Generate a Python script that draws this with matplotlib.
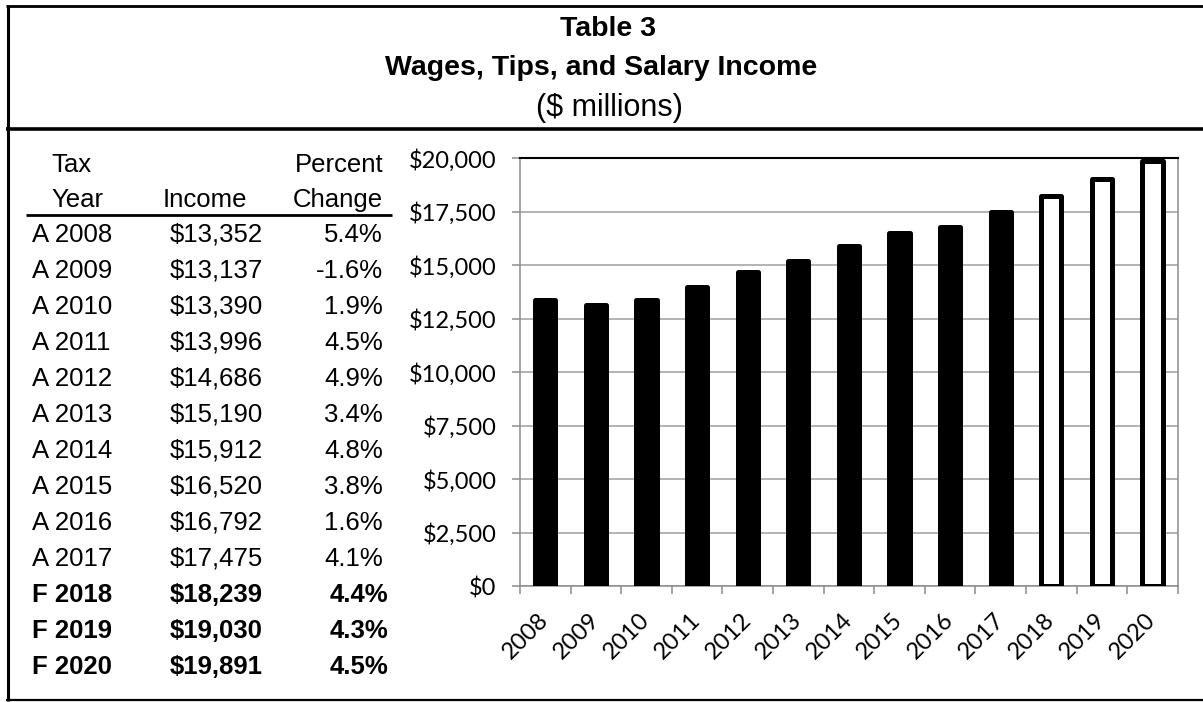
import matplotlib
matplotlib.use("Agg")
import matplotlib.pyplot as plt
from matplotlib.lines import Line2D

# canvas size in pixels (dpi 100)
W, H = 1203, 702

years = [2008, 2009, 2010, 2011, 2012, 2013, 2014, 2015, 2016, 2017, 2018, 2019, 2020]
status = ["A", "A", "A", "A", "A", "A", "A", "A", "A", "A", "F", "F", "F"]  # A = actual, F = forecast
income = [13352, 13137, 13390, 13996, 14686, 15190, 15912, 16520, 16792, 17475, 18239, 19030, 19891]
pct_change = [5.4, -1.6, 1.9, 4.5, 4.9, 3.4, 4.8, 3.8, 1.6, 4.1, 4.4, 4.3, 4.5]
y_ticks = [0, 2500, 5000, 7500, 10000, 12500, 15000, 17500, 20000]

title_lines = ["Table 3", "Wages, Tips, and Salary Income", "($ millions)"]

TABLE_FONT = "Liberation Sans"
AXIS_FONT = "Lato"
GRAY = "#8c8c8c"
ROW_SIZE = 18.5


def fx(x):
    return x / W


def fy(y):
    return 1 - y / H


def hline(fig, y, x0, x1, lw):
    fig.add_artist(Line2D([fx(x0), fx(x1)], [fy(y), fy(y)], color="black",
                          lw=lw, solid_capstyle="butt", transform=fig.transFigure))


def vline(fig, x, y0, y1, lw):
    fig.add_artist(Line2D([fx(x), fx(x)], [fy(y0), fy(y1)], color="black",
                          lw=lw, solid_capstyle="butt", transform=fig.transFigure))


def put(fig, x, y, s, ha="left", size=ROW_SIZE, bold=False):
    fig.text(fx(x), fy(y), s, ha=ha, va="baseline", fontsize=size,
             family=TABLE_FONT, weight="bold" if bold else "normal")


fig = plt.figure(figsize=(W / 100, H / 100), dpi=100)

# frame around the whole table
hline(fig, 5.5, 6, W, 2.0)
vline(fig, 7.5, 4.5, 701, 2.2)
hline(fig, 129, 6, W, 2.6)
hline(fig, 700, 6, W, 1.6)

# title block
put(fig, 608, 36, title_lines[0], ha="center", size=20.5, bold=True)
put(fig, 601, 75, title_lines[1], ha="center", size=20.5, bold=True)
put(fig, 609, 116, title_lines[2], ha="center", size=22)

# table header
put(fig, 51, 172, "Tax")
put(fig, 51, 207, "Year")
put(fig, 205, 207, "Income", ha="center")
put(fig, 383, 172, "Percent", ha="right")
put(fig, 383, 207, "Change", ha="right")
hline(fig, 215, 26, 392, 2.0)

# table rows
for i, (yr, st, inc, pc) in enumerate(zip(years, status, income, pct_change)):
    base = 241.7 + 36.0 * i
    bold = st == "F"
    put(fig, 32, base, f"{st} {yr}", bold=bold)
    put(fig, 263, base, f"${inc:,}", ha="right", bold=bold)
    put(fig, 388 if bold else 383, base, f"{pc:.1f}%", ha="right", bold=bold)

# bar chart
ax = fig.add_axes([fx(520), fy(586), (1177.7 - 520) / W, (586 - 158.3) / H])
for i, v in enumerate(income):
    forecast = status[i] == "F"
    ax.bar(i, v, width=0.4, facecolor="white" if forecast else "black",
           edgecolor="black", linewidth=3.6, joinstyle="round", zorder=3)

ax.set_xlim(-0.5, len(years) - 0.5)
ax.set_ylim(y_ticks[0], y_ticks[-1])
ax.set_yticks(y_ticks)
ax.set_yticklabels([f"${v:,}" for v in y_ticks], family=AXIS_FONT, fontsize=17)
ax.yaxis.grid(True, color="#a6a6a6", lw=1.2, zorder=0)
ax.set_axisbelow(True)

ax.set_xticks([i - 0.5 for i in range(len(years) + 1)])
ax.set_xticklabels([])
ax.set_xticks(range(len(years)), minor=True)
ax.set_xticklabels([str(y) for y in years], minor=True, rotation=45, ha="right",
                   va="center", rotation_mode="anchor", family=AXIS_FONT, fontsize=17)

ax.tick_params(axis="y", direction="out", length=6, width=1.1, color=GRAY, pad=11)
ax.tick_params(axis="x", which="major", direction="out", length=5.5, width=1.1, color=GRAY)
ax.tick_params(axis="x", which="minor", length=0, pad=22)

for side in ("left", "bottom", "right"):
    ax.spines[side].set_color(GRAY)
    ax.spines[side].set_linewidth(1.1)
ax.spines["top"].set_color("black")
ax.spines["top"].set_linewidth(1.5)

fig.savefig("out.png", dpi=100)
